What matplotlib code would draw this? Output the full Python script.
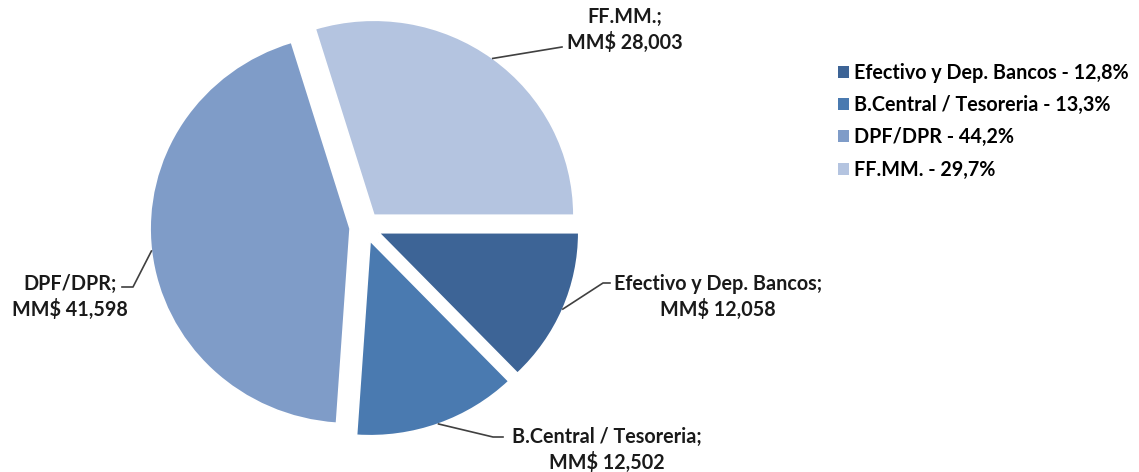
import numpy as np
import matplotlib
matplotlib.use('Agg')
import matplotlib.pyplot as plt
from matplotlib.patches import Patch

plt.rcParams['font.family'] = ['Lato', 'DejaVu Sans']
plt.rcParams['font.weight'] = 'bold'

# data
categorias = ['Efectivo y Dep. Bancos', 'B.Central / Tesoreria', 'DPF/DPR', 'FF.MM.']
montos = [12058, 12502, 41598, 28003]
porcentajes = ['12,8%', '13,3%', '44,2%', '29,7%']
valores_txt = ['12,058', '12,502', '41,598', '28,003']
colores = ['#3D6496', '#4A7AB0', '#7F9CC8', '#B4C4E0']

W, H = 1139, 472
fig = plt.figure(figsize=(W / 100, H / 100), dpi=100)

# pie axes: centre at (365, 227) px from top, radii 200 x 195 px (Excel's pie is slightly squashed)
cx, cy, rx, ry = 365, 227, 200, 195
lim = 1.1
ax = fig.add_axes([(cx - lim * rx) / W, (H - cy - lim * ry) / H,
                   2 * lim * rx / W, 2 * lim * ry / H])

expl = 0.075
wedges, _ = ax.pie(montos, colors=colores, startangle=0, counterclock=False,
                   explode=[expl] * len(montos), radius=1,
                   wedgeprops=dict(edgecolor='white', linewidth=1.2))
ax.set_xlim(-lim, lim)
ax.set_ylim(-lim, lim)
ax.set_aspect('auto')
ax.axis('off')


def px(x, y):
    # figure pixel (from top-left) -> pie data units
    return (x - cx) / rx, (cy - y) / ry


# label placement (pixels): text centre, elbow, end of short horizontal
layout = [
    dict(xy=(718, 297), elbow=(603, 283), end=(610, 283)),
    dict(xy=(607, 450), elbow=(493, 437), end=(503, 437)),
    dict(xy=(70, 297), elbow=(133, 287), end=(122, 287)),
    dict(xy=(625, 30), elbow=(562, 47), end=(562, 47)),
]

for i, w in enumerate(wedges):
    mid = np.deg2rad((w.theta1 + w.theta2) / 2)
    ex, ey = (1 + expl) * np.cos(mid), (1 + expl) * np.sin(mid)
    lo = layout[i]
    tx, ty = px(*lo['xy'])
    bx, by = px(*lo['elbow'])
    hx, hy = px(*lo['end'])
    txt = categorias[i] + ';\nMM$ ' + valores_txt[i]
    ax.text(tx, ty, txt, ha='center', va='center', fontsize=14.2,
            color='#1a1a1a', linespacing=1.25, multialignment='center', clip_on=False)
    ax.plot([ex, bx, hx], [ey, by, hy], color='#404040', lw=1.2, clip_on=False)

handles = [Patch(facecolor=c, edgecolor='none') for c in colores]
labels = [f'{c} - {p}' for c, p in zip(categorias, porcentajes)]
fig.legend(handles, labels, loc='upper left', bbox_to_anchor=(830 / W, 1 - 55 / H),
           frameon=False, fontsize=14.2, handlelength=0.55, handleheight=0.55,
           handletextpad=0.25, labelspacing=0.62, borderaxespad=0)

fig.savefig('out.png', dpi=100)
